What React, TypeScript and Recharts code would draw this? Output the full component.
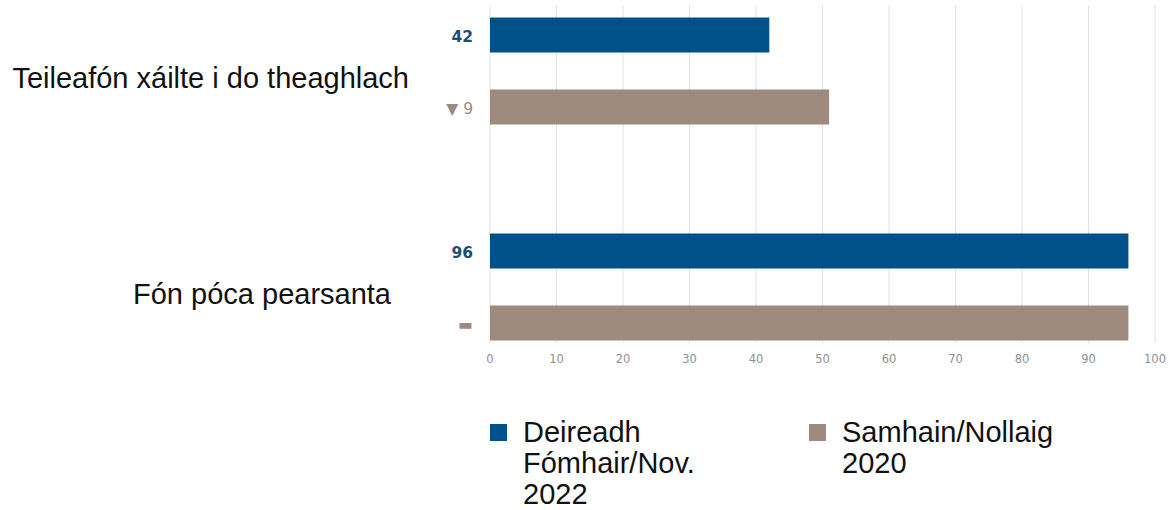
import React from "react";
import {
  BarChart,
  Bar,
  XAxis,
  YAxis,
  CartesianGrid,
  Legend,
  LabelList,
} from "recharts";

const categories = ["Teileafón xáilte i do theaghlach", "Fón póca pearsanta"];
const values2022 = [42, 96];
const values2020 = [51, 96];
const seriesNames = ["Deireadh Fómhair/Nov. 2022", "Samhain/Nollaig 2020"];
const xTicks = [0, 10, 20, 30, 40, 50, 60, 70, 80, 90, 100];

const COLOR_2022 = "#00508a";
const COLOR_2020 = "#9e8a7e";
const LABEL_2022 = "#1d4e7a";
const LABEL_2020 = "#9a8a80";

const categoryLabelInset = [81, 99];

const changeLabel = (now: number, before: number) => {
  const d = now - before;
  if (d < 0) return "▼ " + Math.abs(d);
  if (d > 0) return "▲ " + d;
  return "▬";
};

const data = categories.map((c, i) => ({
  category: c,
  v2022: values2022[i],
  v2020: values2020[i],
  change: changeLabel(values2022[i], values2020[i]),
}));

const makeLabel = (color: string, bold: boolean) => (props: any) => {
  const vb = props.viewBox || {};
  const x = props.x ?? vb.x;
  const y = props.y ?? vb.y;
  const h = props.height ?? vb.height;
  return (
    <text
      x={x - 17}
      y={y + h / 2 + 2}
      textAnchor="end"
      dominantBaseline="central"
      fill={color}
      fontFamily="'DejaVu Sans', sans-serif"
      fontWeight={bold ? 700 : 400}
      fontSize={15.5}
    >
      {props.value}
    </text>
  );
};

const CategoryTick = (props: any) => {
  const { x, y, payload, index } = props;
  const inset = categoryLabelInset[index] ?? 80;
  return (
    <text
      x={x - inset + 8}
      y={y + 7}
      textAnchor="end"
      dominantBaseline="central"
      fill="#111"
      fontFamily="'Liberation Sans', Arial, sans-serif"
      fontSize={29}
    >
      {payload.value}
    </text>
  );
};

const LegendContent = () => {
  const items = [
    { name: seriesNames[0], color: COLOR_2022, width: 215 },
    { name: seriesNames[1], color: COLOR_2020, width: 240 },
  ];
  return (
    <div style={{ display: "flex", paddingLeft: 490 }}>
      {items.map((it, i) => (
        <div
          key={i}
          style={{
            display: "flex",
            alignItems: "flex-start",
            marginRight: i === 0 ? 71 : 0,
          }}
        >
          <div
            style={{
              width: 17,
              height: 17,
              background: it.color,
              marginTop: 7,
              marginRight: 16,
              flex: "0 0 auto",
            }}
          />
          <div
            style={{
              width: it.width,
              fontFamily: "'Liberation Sans', Arial, sans-serif",
              fontSize: 29,
              lineHeight: "31px",
              color: "#111",
              textAlign: "left",
            }}
          >
            {it.name}
          </div>
        </div>
      ))}
    </div>
  );
};

export default function App() {
  return (
    <div
      style={{
        position: "absolute",
        left: 0,
        top: 0,
        width: 1170,
        height: 510,
        background: "#fff",
      }}
    >
      <BarChart
        width={1170}
        height={510}
        data={data}
        layout="vertical"
        margin={{ top: 5, right: 15, left: 0, bottom: 137 }}
        barSize={35}
        barGap={37}
      >
        <CartesianGrid horizontal={false} stroke="#e2e2e2" />
        <XAxis
          type="number"
          domain={[0, 100]}
          ticks={xTicks}
          axisLine={false}
          tickLine={false}
          tickMargin={6}
          interval={0}
          tick={{
            fill: "#909090",
            fontSize: 11.5,
            fontFamily: "'DejaVu Sans', sans-serif",
          }}
        />
        <YAxis
          type="category"
          dataKey="category"
          width={490}
          axisLine={false}
          tickLine={false}
          padding={{ top: -42.5, bottom: -51.5 }}
          tick={<CategoryTick />}
        />
        <Legend
          layout="vertical"
          verticalAlign="middle"
          align="center"
          content={<LegendContent />}
          wrapperStyle={{ left: 0, top: 417, width: 1170 }}
        />
        <Bar
          dataKey="v2022"
          name={seriesNames[0]}
          fill={COLOR_2022}
          isAnimationActive={false}
        >
          <LabelList dataKey="v2022" content={makeLabel(LABEL_2022, true)} />
        </Bar>
        <Bar
          dataKey="v2020"
          name={seriesNames[1]}
          fill={COLOR_2020}
          isAnimationActive={false}
        >
          <LabelList dataKey="change" content={makeLabel(LABEL_2020, false)} />
        </Bar>
      </BarChart>
    </div>
  );
}
